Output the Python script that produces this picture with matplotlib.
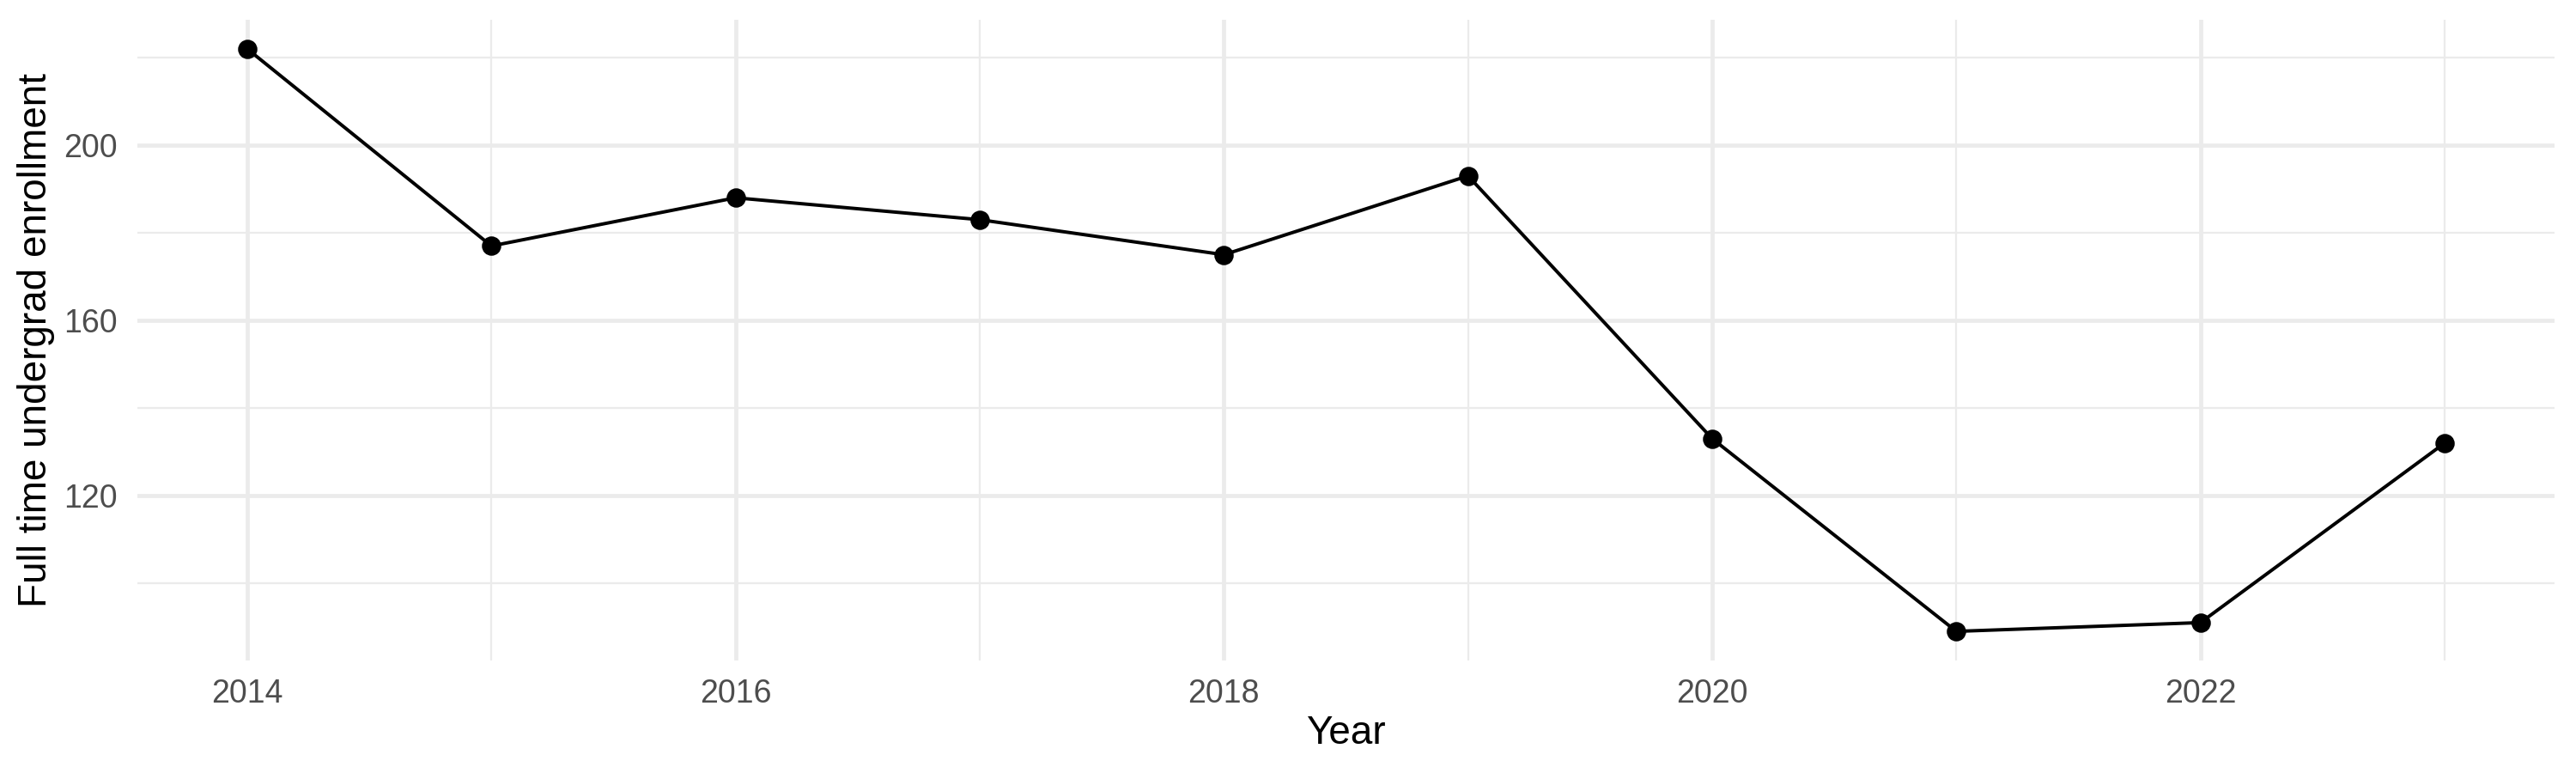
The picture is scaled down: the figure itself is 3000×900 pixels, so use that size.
import matplotlib.pyplot as plt
from matplotlib.ticker import MultipleLocator

plt.rcParams['font.family'] = ['Liberation Sans', 'DejaVu Sans']

# ---- data ----
years = [2014, 2015, 2016, 2017, 2018, 2019, 2020, 2021, 2022, 2023]
enrollment = [222, 177, 188, 183, 175, 193, 133, 89, 91, 132]
x_ticks = [2014, 2016, 2018, 2020, 2022]
y_ticks = [120, 160, 200]

grid_col = '#EBEBEB'
text_col = '#4D4D4D'

fig = plt.figure(figsize=(10, 3), dpi=300)
# panel placed like the ggplot output (pixels of a 3000x900 canvas)
ax = fig.add_axes([160 / 3000, 1 - 769 / 900, 2815 / 3000, 746 / 900])

ax.plot(years, enrollment, color='black', linewidth=0.95, zorder=3)
ax.plot(years, enrollment, 'o', color='black', markersize=4.4, zorder=4)

# ggplot-like expansion (5% of range)
xr = max(years) - min(years)
ax.set_xlim(min(years) - 0.05 * xr, max(years) + 0.05 * xr)
yr = max(enrollment) - min(enrollment)
ax.set_ylim(min(enrollment) - 0.05 * yr, max(enrollment) + 0.05 * yr)

ax.set_xticks(x_ticks)
ax.set_yticks(y_ticks)
ax.xaxis.set_minor_locator(MultipleLocator(1))
ax.yaxis.set_minor_locator(MultipleLocator(20))

ax.grid(which='major', color=grid_col, linewidth=1.13)
ax.grid(which='minor', color=grid_col, linewidth=0.55)
ax.set_axisbelow(True)

ax.tick_params(axis='both', which='both', length=0, labelsize=9, labelcolor=text_col)
ax.tick_params(axis='x', pad=5.0)
ax.tick_params(axis='y', pad=5.5)

for s in ax.spines.values():
    s.set_visible(False)

ax.set_xlabel("Year", fontsize=11, color='black', labelpad=1.5)
ax.set_ylabel("Full time undergrad enrollment", fontsize=11, color='black')
ax.yaxis.set_label_coords(-0.034, 0.5)

fig.savefig("out.png", dpi=300, facecolor='white')
